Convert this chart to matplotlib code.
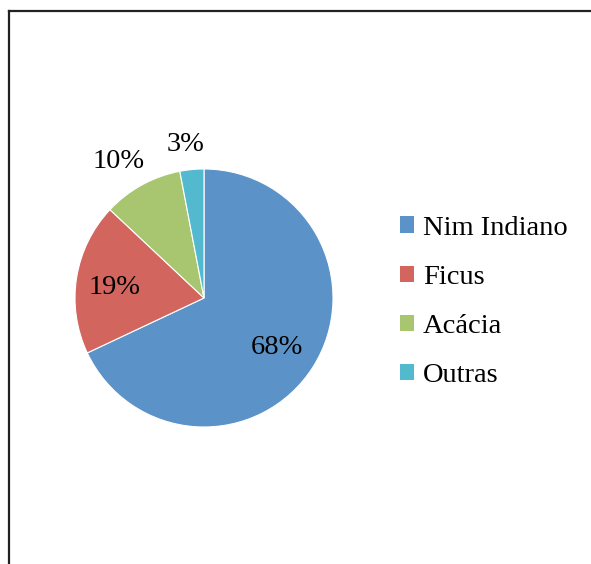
import numpy as np
import matplotlib.pyplot as plt
from matplotlib.lines import Line2D
from matplotlib.patches import Patch

plt.rcParams['font.family'] = ['Liberation Serif', 'DejaVu Serif']

labels = ['Nim Indiano', 'Ficus', 'Acácia', 'Outras']
values = [68, 19, 10, 3]
colors = ['#5B93C9', '#D2665F', '#A8C56F', '#52B9CF']

W, H = 591, 564
fig = plt.figure(figsize=(W / 100, H / 100), dpi=100)

# pie centre (204, 298) px, radius 129 px
cx, cy, r = 204, 298, 129
ax = fig.add_axes([(cx - r) / W, (H - cy - r) / H, 2 * r / W, 2 * r / H])
wedges, _ = ax.pie(values, colors=colors, startangle=90, counterclock=False,
                   radius=1, wedgeprops=dict(edgecolor='white', linewidth=0.8))
ax.set_xlim(-1, 1)
ax.set_ylim(-1, 1)
ax.set_aspect('equal')
ax.axis('off')

# label placement: distance from centre (radii) and angle nudge (deg)
dist = [0.684, 0.695, 1.25, 1.195]
nudge = [-2.1, 2.0, 3.2, 1.5]
for w, v, d, n in zip(wedges, values, dist, nudge):
    ang = np.deg2rad((w.theta1 + w.theta2) / 2 + n)
    ax.text(d * np.cos(ang), d * np.sin(ang), f'{v}%', ha='center', va='center',
            fontsize=20.5, color='black')

handles = [Patch(facecolor=c, edgecolor='none') for c in colors]
fig.legend(handles, labels, loc='center left', bbox_to_anchor=(400 / W, 1 - 302 / H),
           frameon=False, fontsize=20.5, handlelength=0.5, handleheight=0.5,
           handletextpad=0.3, labelspacing=0.85, borderpad=0, borderaxespad=0)

# outer frame: top and left edge only
fig.add_artist(Line2D([8.5 / W, 1], [1 - 10.5 / H, 1 - 10.5 / H], color='#222222', lw=1.6))
fig.add_artist(Line2D([8.5 / W, 8.5 / W], [0, 1 - 10.5 / H], color='#222222', lw=1.6))

fig.savefig('out.png', dpi=100)
